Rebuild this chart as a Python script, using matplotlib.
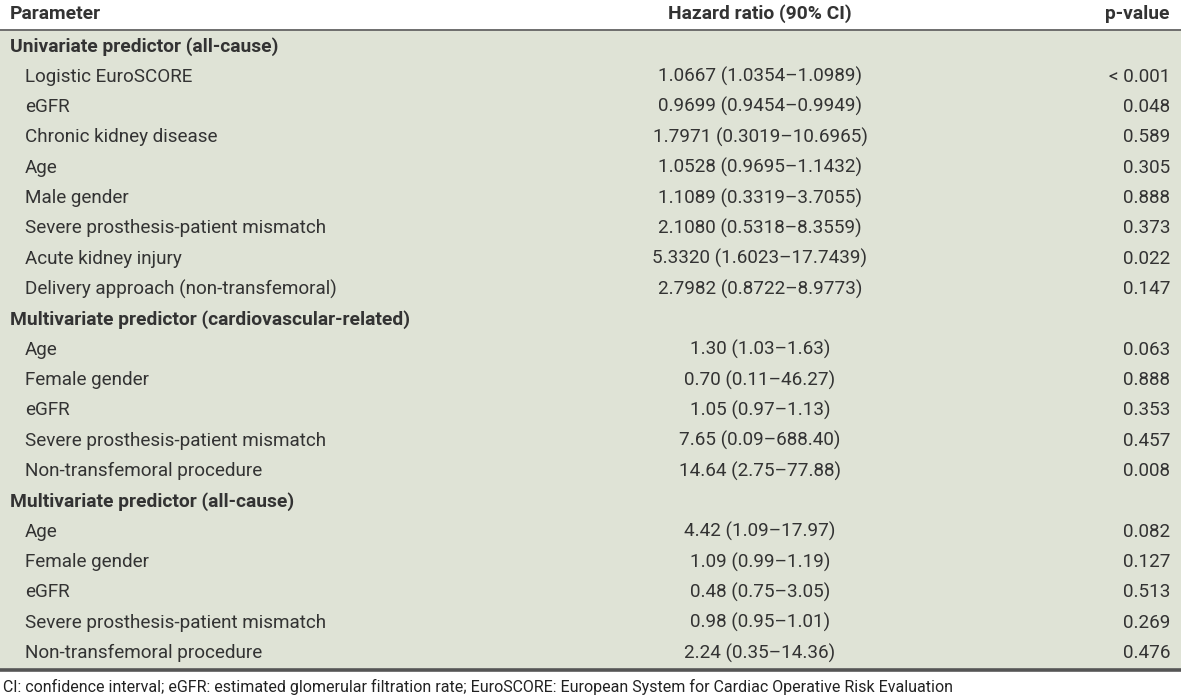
import matplotlib
matplotlib.use("Agg")
import matplotlib.pyplot as plt
from matplotlib.patches import Rectangle

plt.rcParams['font.family'] = ['Roboto', 'DejaVu Sans']

headers = ["Parameter", "Hazard ratio (90% CI)", "p-value"]

# (label, hazard ratio, p-value); hazard ratio None marks a section heading
rows = [
    ("Univariate predictor (all-cause)", None, None),
    ("Logistic EuroSCORE", "1.0667 (1.0354\u20131.0989)", "< 0.001"),
    ("eGFR", "0.9699 (0.9454\u20130.9949)", "0.048"),
    ("Chronic kidney disease", "1.7971 (0.3019\u201310.6965)", "0.589"),
    ("Age", "1.0528 (0.9695\u20131.1432)", "0.305"),
    ("Male gender", "1.1089 (0.3319\u20133.7055)", "0.888"),
    ("Severe prosthesis-patient mismatch", "2.1080 (0.5318\u20138.3559)", "0.373"),
    ("Acute kidney injury", "5.3320 (1.6023\u201317.7439)", "0.022"),
    ("Delivery approach (non-transfemoral)", "2.7982 (0.8722\u20138.9773)", "0.147"),
    ("Multivariate predictor (cardiovascular-related)", None, None),
    ("Age", "1.30 (1.03\u20131.63)", "0.063"),
    ("Female gender", "0.70 (0.11\u201346.27)", "0.888"),
    ("eGFR", "1.05 (0.97\u20131.13)", "0.353"),
    ("Severe prosthesis-patient mismatch", "7.65 (0.09\u2013688.40)", "0.457"),
    ("Non-transfemoral procedure", "14.64 (2.75\u201377.88)", "0.008"),
    ("Multivariate predictor (all-cause)", None, None),
    ("Age", "4.42 (1.09\u201317.97)", "0.082"),
    ("Female gender", "1.09 (0.99\u20131.19)", "0.127"),
    ("eGFR", "0.48 (0.75\u20133.05)", "0.513"),
    ("Severe prosthesis-patient mismatch", "0.98 (0.95\u20131.01)", "0.269"),
    ("Non-transfemoral procedure", "2.24 (0.35\u201314.36)", "0.476"),
]

footnote = ("CI: confidence interval; eGFR: estimated glomerular filtration rate; "
            "EuroSCORE: European System for Cardiac Operative Risk Evaluation")

W, H = 1181, 696
fig = plt.figure(figsize=(W / 100, H / 100), dpi=100)
ax = fig.add_axes([0, 0, 1, 1])
ax.set_xlim(0, W)
ax.set_ylim(H, 0)
ax.axis("off")

txt = "#333333"
bg = "#dfe3d6"
fs = 13.6
fsb = 13.9

top, row_h = 31, 30.35
bottom = top + row_h * len(rows)

ax.add_patch(Rectangle((0, top), W, bottom - top, color=bg, zorder=0))
ax.plot([0, W], [30, 30], color="#555555", lw=1.2)
ax.plot([0, W], [bottom + 1.5, bottom + 1.5], color="#555555", lw=2.6)

ax.text(10, 14, headers[0], fontsize=fsb, fontweight="bold", color=txt, va="center")
ax.text(760, 14, headers[1], fontsize=fsb, fontweight="bold", color=txt, va="center", ha="center")
ax.text(1170, 14, headers[2], fontsize=fsb, fontweight="bold", color=txt, va="center", ha="right")

for i, (label, hr, p) in enumerate(rows):
    y = top + row_h * (i + 0.5)
    if hr is None:
        ax.text(10, y, label, fontsize=fsb, fontweight="bold", color=txt, va="center")
    else:
        ax.text(25, y, label, fontsize=fs, color=txt, va="center")
        ax.text(760, y, hr, fontsize=fs, color=txt, va="center", ha="center")
        ax.text(1170, y, p, fontsize=fs, color=txt, va="center", ha="right")

ax.text(3, 687, footnote, fontsize=11.5, color="#222222", va="center")

fig.savefig("out.png", dpi=100)
